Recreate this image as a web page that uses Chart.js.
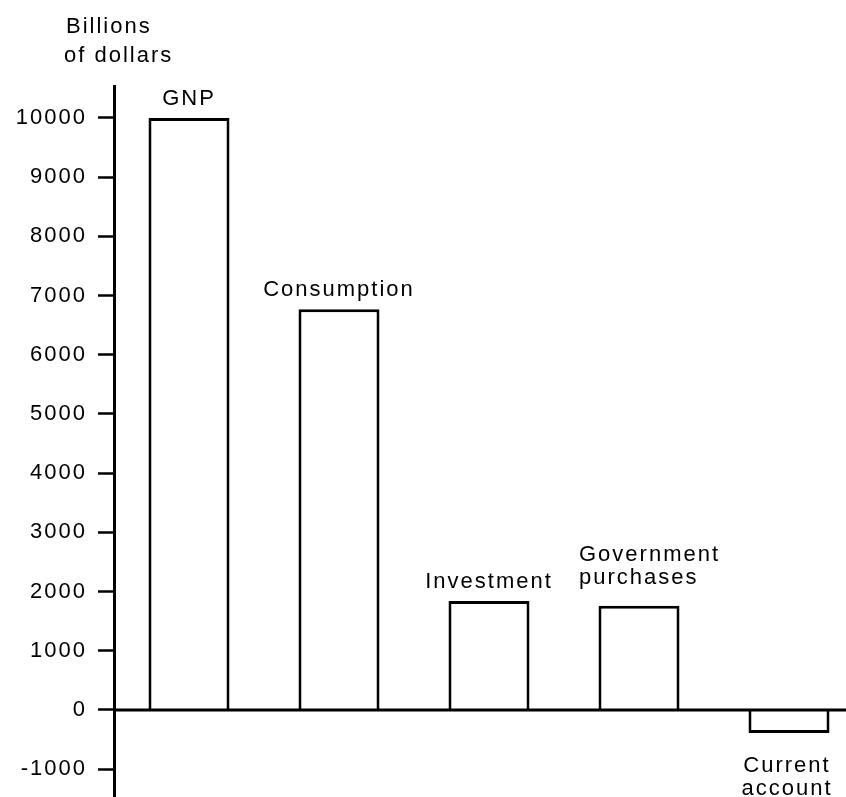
<!DOCTYPE html>
<html>
<head>
<meta charset="utf-8">
<script src="https://cdn.jsdelivr.net/npm/chart.js@4"></script>
<style>
    html, body { margin: 0; padding: 0; background: #fff; overflow: hidden; }
    #wrap { position: absolute; left: 0; top: 0; width: 870px; height: 797px; }
</style>
</head>
<body>
<div id="wrap"><canvas id="gnpChart"></canvas></div>
<script>
const categories = ['GNP', 'Consumption', 'Investment', 'Government purchases', 'Current account'];
const labelLines = [['GNP'], ['Consumption'], ['Investment'], ['Government', 'purchases'], ['Current', 'account']];
const values = [10000, 6770, 1840, 1760, -390];
const tickValues = [-1000, 0, 1000, 2000, 3000, 4000, 5000, 6000, 7000, 8000, 9000, 10000];
const yTitle = ['Billions', 'of dollars'];
const yMin = -1470;
const yMax = 10540;

const FONT = '22px "Liberation Sans", Arial, sans-serif';

const spacingPlugin = {
    id: 'spacing',
    beforeDraw(chart) {
        chart.ctx.letterSpacing = '2px';
    }
};

const annotPlugin = {
    id: 'annot',
    afterDatasetsDraw(chart) {
        const ctx = chart.ctx;
        const area = chart.chartArea;
        const yScale = chart.scales.y;
        const zero = yScale.getPixelForValue(0);

        ctx.save();
        ctx.letterSpacing = '2px';
        // zero line across the plot
        ctx.strokeStyle = '#000';
        ctx.lineWidth = 3;
        ctx.beginPath();
        ctx.moveTo(area.left, zero);
        ctx.lineTo(chart.width, zero);
        ctx.stroke();

        ctx.fillStyle = '#000';
        ctx.font = FONT;
        ctx.textBaseline = 'alphabetic';
        const meta = chart.getDatasetMeta(0);
        meta.data.forEach((bar, i) => {
            const lines = labelLines[i];
            if (values[i] >= 0) {
                if (lines.length > 1) {
                    ctx.textAlign = 'left';
                    const x0 = bar.x - 60;
                    ctx.fillText(lines[0], x0, bar.y - 45);
                    ctx.fillText(lines[1], x0, bar.y - 22);
                } else {
                    ctx.textAlign = 'center';
                    ctx.fillText(lines[0], bar.x, bar.y - 13);
                }
            } else {
                ctx.textAlign = 'center';
                lines.forEach((l, k) => {
                    ctx.fillText(l, bar.x - 2, bar.y + 39 + k * 23);
                });
            }
        });

        // axis title
        ctx.textAlign = 'left';
        ctx.fillText(yTitle[0], 66, 33);
        ctx.fillText(yTitle[1], 64, 62);
        ctx.restore();
    }
};

const ctx = document.getElementById('gnpChart').getContext('2d');
const chart = new Chart(ctx, {
    type: 'bar',
    data: {
        labels: categories,
        datasets: [{
            data: values,
            backgroundColor: '#fff',
            borderColor: '#000',
            borderWidth: 3,
            barPercentage: 0.54,
            categoryPercentage: 1
        }]
    },
    options: {
        responsive: true,
        maintainAspectRatio: false,
        animation: false,
        layout: { padding: { top: 86, right: 6, bottom: 0, left: 0 } },
        plugins: {
            legend: { display: false },
            tooltip: { enabled: false }
        },
        scales: {
            x: { display: false },
            y: {
                min: yMin,
                max: yMax,
                ticks: {
                    color: '#000',
                    font: { family: '"Liberation Sans", Arial, sans-serif', size: 22 },
                    padding: 11,
                    callback: function(value) { return String(value); }
                },
                afterBuildTicks: function(scale) {
                    scale.ticks = tickValues.map(v => ({ value: v }));
                },
                afterFit: function(scale) {
                    scale.width = 114;
                    scale.paddingTop = 0;
                    scale.paddingBottom = 0;
                },
                grid: {
                    drawOnChartArea: false,
                    tickLength: 16,
                    tickColor: '#000',
                    tickWidth: 2.5
                },
                border: { color: '#000', width: 3 }
            }
        }
    },
    plugins: [spacingPlugin, annotPlugin]
});
</script>
</body>
</html>
